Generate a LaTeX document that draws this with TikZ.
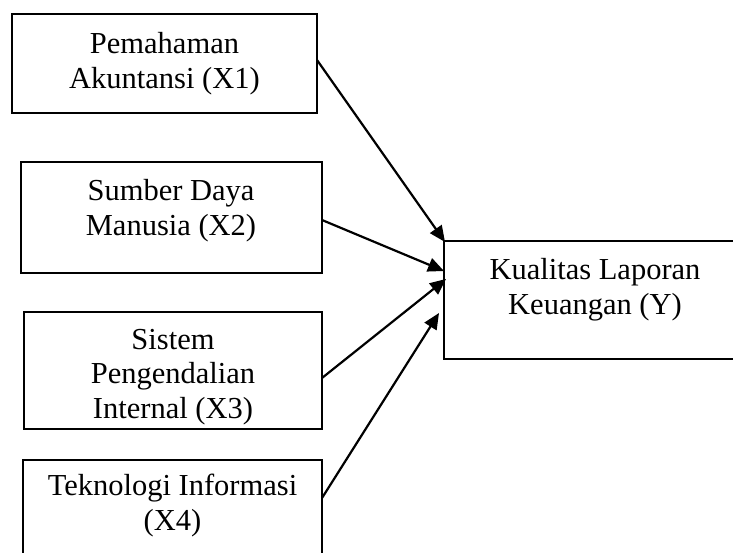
\documentclass[tikz,border=0pt]{standalone}
\usepackage{fontspec}
\setmainfont{Liberation Serif}
\usetikzlibrary{arrows.meta,calc}
\tikzset{
  box/.style={draw, line width=2.2pt, rectangle, inner sep=0pt, outer sep=0pt, anchor=north west},
  txt/.style={align=center, anchor=base, inner sep=0pt, font=\fontsize{30.5}{34.5}\selectfont},
  conn/.style={line width=2.2pt, -{Triangle[length=16pt,width=14pt]}}
}
\begin{document}
\begin{tikzpicture}[x=1pt,y=-1pt]
\clip (0,0) rectangle (733,552);
\fill[white] (0,0) rectangle (733,552);
% boxes
\node[box, minimum width=305pt, minimum height=99pt] (x1) at (12,14) {};
\node[box, minimum width=301pt, minimum height=111pt] (x2) at (21,162) {};
\node[box, minimum width=298pt, minimum height=117pt] (x3) at (24,312) {};
\node[box, minimum width=299pt, minimum height=130pt] (x4) at (23,460) {};
\node[box, minimum width=310pt, minimum height=118pt] (y) at (444,241) {};
% texts (anchor = baseline of last line)
\node[txt] (x1t) at (164.5,88) {Pemahaman\\Akuntansi (X1)};
\node[txt] (x2t) at (171,235) {Sumber Daya\\Manusia (X2)};
\node[txt] (x3t) at (173,418) {Sistem\\Pengendalian\\Internal (X3)};
\node[txt] (x4t) at (172.5,530) {Teknologi Informasi\\(X4)};
\node[txt] (yt) at (595,314) {Kualitas Laporan\\Keuangan (Y)};
% connectors
\draw[conn] ([yshift=-46pt]x1.north east) -- ([xshift=1pt,yshift=-1pt]y.north west);
\draw[conn] ([yshift=-58pt]x2.north east) -- ([yshift=-30pt]y.north west);
\draw[conn] ([yshift=-66pt]x3.north east) -- ([xshift=2pt,yshift=-38pt]y.north west);
\draw[conn] ([yshift=-38pt]x4.north east) -- ([xshift=-5pt,yshift=-72pt]y.north west);
\end{tikzpicture}
\end{document}
